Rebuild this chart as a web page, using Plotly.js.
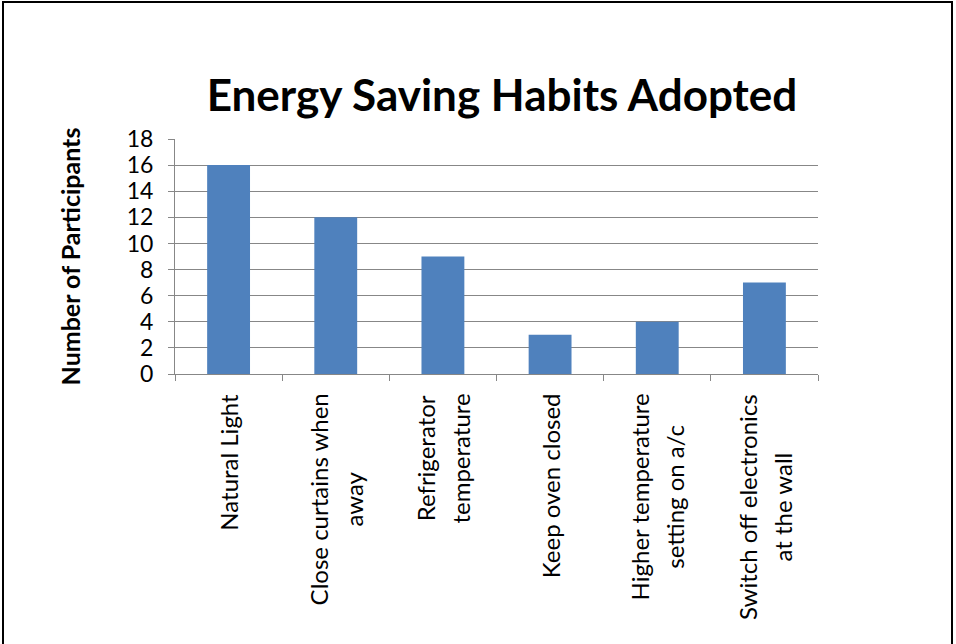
<!DOCTYPE html>
<html>
<head>
<meta charset="utf-8">
<script src="https://cdn.plot.ly/plotly-3.0.1.min.js"></script>
<style>
  html, body { margin: 0; padding: 0; background: #fff; overflow: hidden; }
  #wrap { position: relative; width: 956px; height: 644px; }
  #chart { position: absolute; left: 0; top: 0; width: 956px; height: 644px; }
  #frame {
    position: absolute; left: 2px; top: 1px; width: 951px; height: 700px;
    border: 2px solid #000; pointer-events: none; box-sizing: border-box;
  }
</style>
</head>
<body>
<div id="wrap">
  <div id="chart"></div>
  <div id="frame"></div>
</div>
<script>
// Survey results: how many participants adopted each habit
const habits = [
  "Natural Light",
  "Close curtains when away",
  "Refrigerator temperature",
  "Keep oven closed",
  "Higher temperature setting on a/c",
  "Switch off electronics at the wall"
];
// Category labels as they wrap under the axis
const habitLabels = [
  ["Natural Light"],
  ["Close curtains when", "away"],
  ["Refrigerator", "temperature"],
  ["Keep oven closed"],
  ["Higher temperature", "setting on a/c"],
  ["Switch off electronics", "at the wall"]
];
const participants = [16, 12, 9, 3, 4, 7];
const yTicks = [0, 2, 4, 6, 8, 10, 12, 14, 16, 18];

const FONT = "Lato, 'Open Sans', sans-serif";
const GRID = "#878787";

const trace = {
  type: "bar",
  x: habits,
  y: participants,
  marker: { color: "#4F81BD", line: { width: 0 } },
  hoverinfo: "x+y"
};

// Wrapped category names drawn under each bar, rotated to read upward
const labelAnnotations = habits.map((h, i) => ({
  x: h,
  xref: "x",
  y: -0.075,
  yref: "paper",
  xanchor: "center",
  yanchor: "top",
  textangle: -90,
  align: "center",
  showarrow: false,
  font: { family: FONT, size: 27, color: "#000" },
  text: habitLabels[i]
    .map(line => '<span style="font-size:24px">' + line + "</span>")
    .join("<br>")
}));

const layout = {
  width: 956,
  height: 644,
  paper_bgcolor: "#fff",
  plot_bgcolor: "#fff",
  margin: { l: 175, r: 138, t: 139, b: 270, pad: 0 },
  showlegend: false,
  bargap: 0.6,
  title: {
    text: "<b>Energy Saving Habits Adopted</b>",
    font: { family: FONT, size: 44, color: "#000" },
    x: 502 / 956,
    xref: "container",
    xanchor: "center",
    y: 1 - 96 / 644,
    yref: "container",
    yanchor: "middle"
  },
  xaxis: {
    type: "category",
    showticklabels: false,
    ticks: "outside",
    tickson: "boundaries",
    ticklen: 6,
    tickcolor: GRID,
    tickwidth: 1,
    showline: true,
    linecolor: GRID,
    linewidth: 1,
    showgrid: false,
    zeroline: false,
    fixedrange: true
  },
  yaxis: {
    range: [0, 18],
    tickmode: "array",
    tickvals: yTicks,
    ticktext: yTicks.map(String),
    ticks: "outside",
    ticklen: 6,
    tickcolor: GRID,
    tickwidth: 1,
    ticklabelstandoff: 10,
    tickfont: { family: FONT, size: 23, color: "#000" },
    showline: true,
    linecolor: GRID,
    linewidth: 1,
    showgrid: true,
    gridcolor: GRID,
    gridwidth: 1,
    zeroline: false,
    fixedrange: true,
    title: {
      text: "<b>Number of Participants</b>",
      font: { family: FONT, size: 25, color: "#000" },
      standoff: 38
    }
  },
  annotations: labelAnnotations
};

Plotly.newPlot("chart", [trace], layout, { displayModeBar: false, staticPlot: true });
</script>
</body>
</html>
